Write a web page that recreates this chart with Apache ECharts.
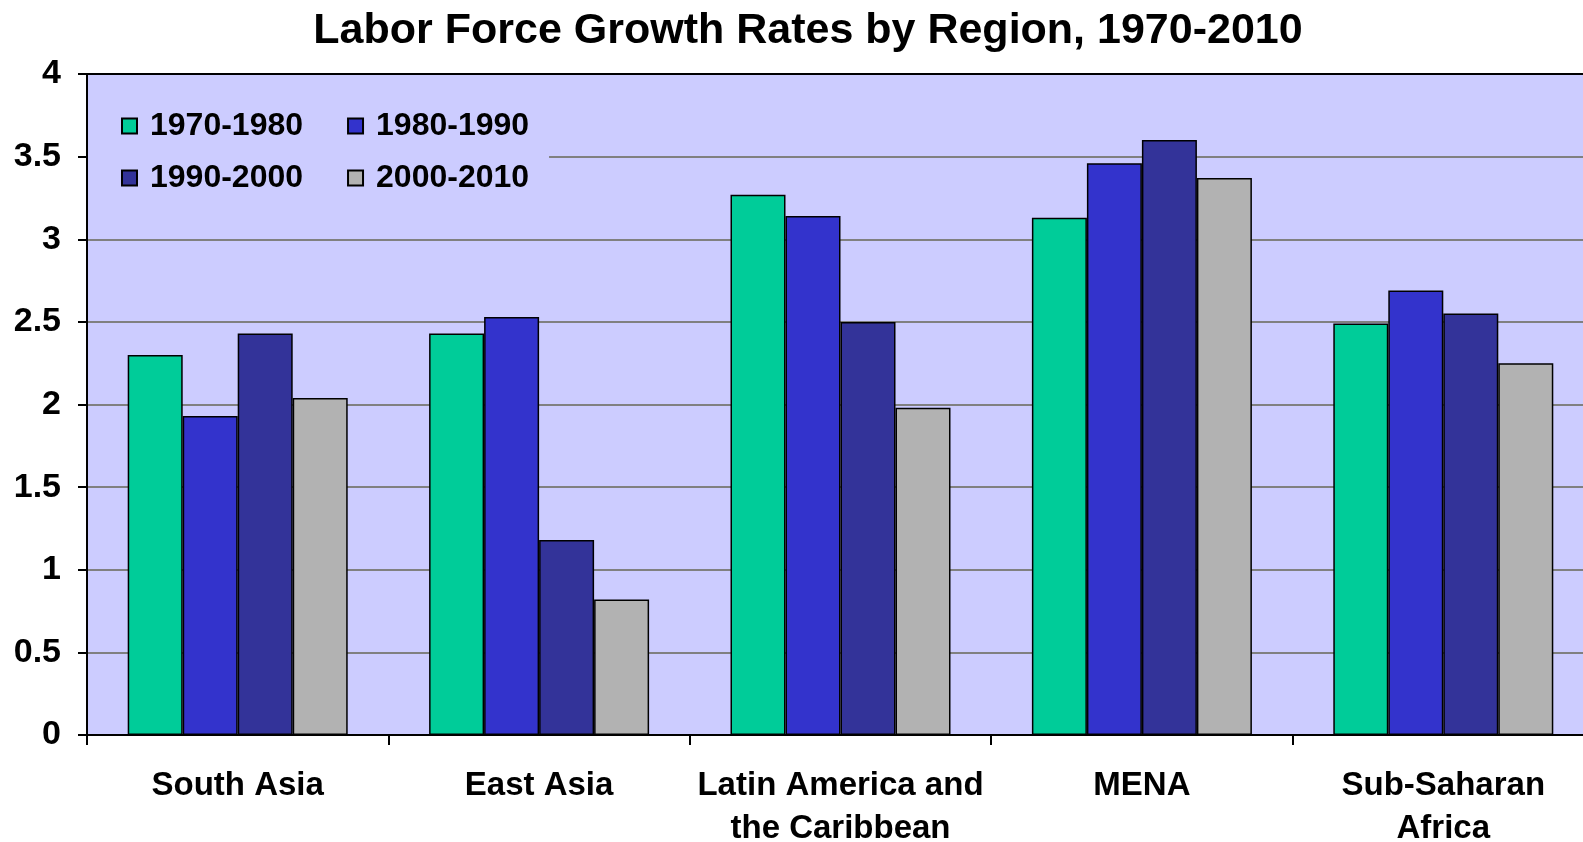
<!DOCTYPE html>
<html>
<head>
<meta charset="utf-8">
<script src="https://cdn.jsdelivr.net/npm/echarts@6/dist/echarts.min.js"></script>
<style>
  html, body { margin: 0; padding: 0; background: #ffffff; }
  #chart { width: 1583px; height: 842px; }
</style>
</head>
<body>
<div id="chart"></div>
<script>
// data
const regions = ['South Asia', 'East Asia', 'Latin America and\nthe Caribbean', 'MENA', 'Sub-Saharan\nAfrica'];
const periods = ['1970-1980', '1980-1990', '1990-2000', '2000-2010'];
const v1970s = [2.30, 2.43, 3.27, 3.13, 2.49];
const v1980s = [1.93, 2.53, 3.14, 3.46, 2.69];
const v1990s = [2.43, 1.18, 2.50, 3.60, 2.55];
const v2000s = [2.04, 0.82, 1.98, 3.37, 2.25];
const colors = ['#00CC99', '#3333CC', '#333399', '#B2B2B2'];

const FONT = '"Liberation Sans", Arial, sans-serif';
const chart = echarts.init(document.getElementById('chart'));

const allValues = [v1970s, v1980s, v1990s, v2000s];
const series = periods.map((p, i) => ({
  name: p,
  type: 'bar',
  data: allValues[i],
  barWidth: 55,
  barGap: '0%',
  itemStyle: { color: colors[i], borderColor: '#000000', borderWidth: 1.5 },
}));

// legend text style, shared by both rows
const legendText = {
  fontFamily: FONT,
  fontWeight: 'bold',
  fontSize: 32,
  color: '#000000',
  lineHeight: 40,
  padding: [0, 0, 0, 8],
};

const option = {
  backgroundColor: '#ffffff',
  animation: false,
  title: {
    text: 'Labor Force Growth Rates by Region, 1970-2010',
    left: 803,
    textAlign: 'center',
    top: 5,
    textStyle: { fontFamily: FONT, fontWeight: 'bold', fontSize: 43, color: '#000000' },
  },
  grid: {
    left: 87,
    right: -11,
    top: 74,
    bottom: 107,
    outerBoundsMode: 'none',
    show: true,
    backgroundColor: '#CCCCFF',
    borderWidth: 0,
  },
  legend: [
    {
      data: periods.slice(0, 2),
      left: 88,
      top: 96,
      padding: [10, 20, 10, 33],
      itemGap: 44,
      itemWidth: 15,
      itemHeight: 15,
      icon: 'rect',
      backgroundColor: '#CCCCFF',
      textStyle: legendText,
    },
    {
      data: periods.slice(2, 4),
      left: 88,
      top: 148,
      padding: [10, 20, 10, 33],
      itemGap: 44,
      itemWidth: 15,
      itemHeight: 15,
      icon: 'rect',
      backgroundColor: '#CCCCFF',
      textStyle: legendText,
    },
  ],
  xAxis: {
    type: 'category',
    data: regions,
    axisLine: { lineStyle: { color: '#000000', width: 2 } },
    axisTick: { show: true, length: 10, lineStyle: { color: '#000000', width: 2 } },
    axisLabel: {
      interval: 0,
      margin: 29,
      fontFamily: FONT,
      fontWeight: 'bold',
      fontSize: 33,
      lineHeight: 43,
      color: '#000000',
    },
  },
  yAxis: {
    type: 'value',
    min: 0,
    max: 4,
    interval: 0.5,
    axisLine: { show: true, lineStyle: { color: '#000000', width: 2 } },
    axisTick: { show: true, length: 9, lineStyle: { color: '#000000', width: 2 } },
    axisLabel: {
      margin: 26,
      fontFamily: FONT,
      fontWeight: 'bold',
      fontSize: 34,
      color: '#000000',
    },
    splitLine: {
      show: true,
      lineStyle: {
        // last line (at 4) is the black top edge of the plot
        color: ['#808080', '#808080', '#808080', '#808080', '#808080', '#808080', '#808080', '#808080', '#000000'],
        width: 2,
      },
    },
  },
  series: series,
};

chart.setOption(option);
</script>
</body>
</html>
